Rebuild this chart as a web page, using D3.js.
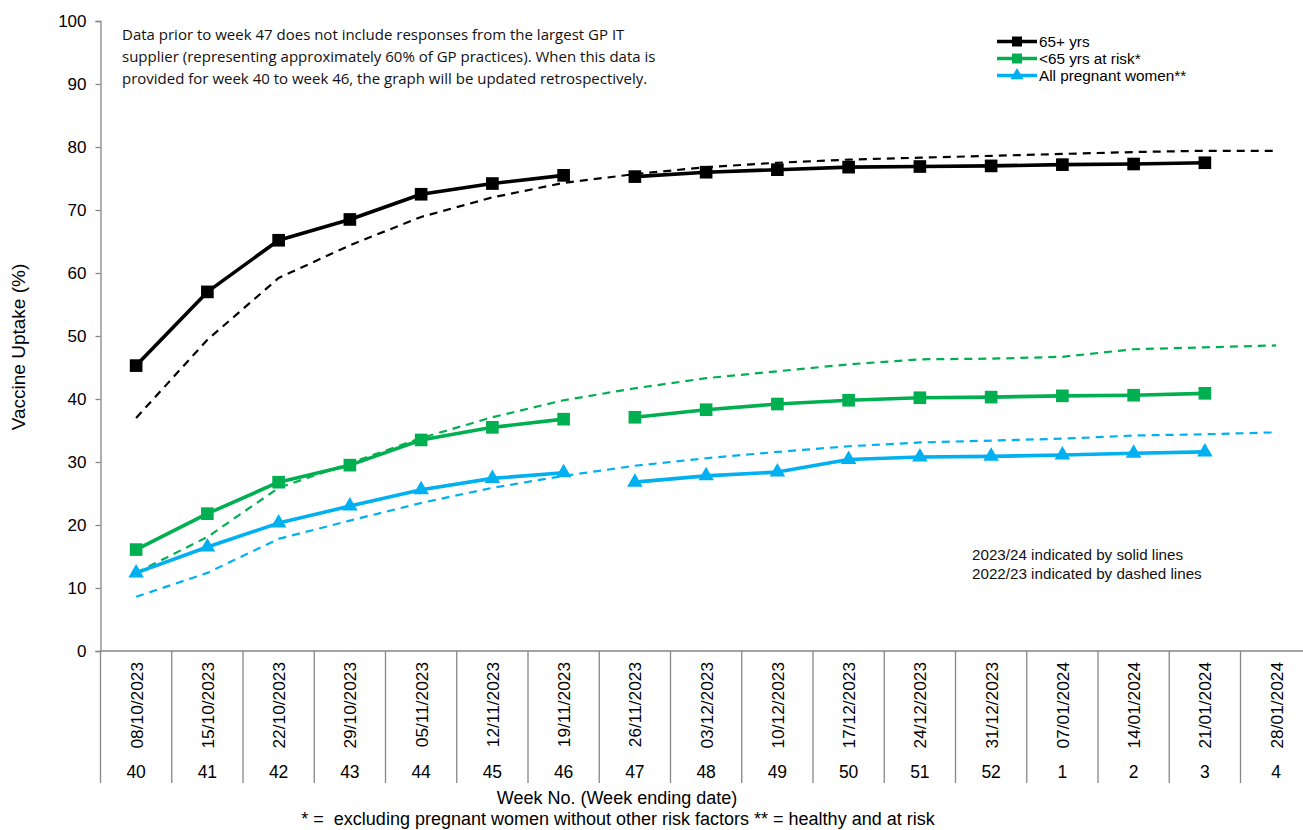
<!DOCTYPE html>
<html><head><meta charset="utf-8">
<script src="https://cdn.jsdelivr.net/npm/d3@7"></script>
<style>body{margin:0;background:#fff}svg{display:block}text{white-space:pre}</style>
</head><body>
<svg id="c" width="1303" height="830"></svg>
<script>
const dates = ["08/10/2023","15/10/2023","22/10/2023","29/10/2023","05/11/2023","12/11/2023","19/11/2023","26/11/2023","03/12/2023","10/12/2023","17/12/2023","24/12/2023","31/12/2023","07/01/2024","14/01/2024","21/01/2024","28/01/2024"];
const weeks = ["40","41","42","43","44","45","46","47","48","49","50","51","52","1","2","3","4"];
const yTicks = [0,10,20,30,40,50,60,70,80,90,100];
// 2023/24 (solid) — null = no data
const over65_2324 = [45.3,57.0,65.2,68.5,72.5,74.2,75.5,75.3,76.0,76.4,76.8,76.9,77.0,77.2,77.3,77.5,null];
const atRisk_2324 = [16.1,21.8,26.8,29.5,33.5,35.5,36.8,37.1,38.3,39.2,39.8,40.2,40.3,40.5,40.6,40.9,null];
const preg_2324 = [12.4,16.5,20.3,23.0,25.6,27.4,28.3,26.8,27.8,28.4,30.4,30.8,30.9,31.1,31.4,31.6,null];
// 2022/23 (dashed)
const over65_2223 = [37.0,49.4,59.2,64.4,68.9,72.0,74.3,75.7,76.8,77.5,78.0,78.3,78.6,78.9,79.2,79.4,79.4];
const atRisk_2223 = [12.4,18.1,25.9,29.8,33.8,37.1,39.8,41.7,43.3,44.4,45.5,46.3,46.4,46.7,47.9,48.2,48.5];
const preg_2223 = [8.6,12.4,17.8,20.7,23.5,25.9,27.8,29.4,30.6,31.6,32.5,33.1,33.4,33.7,34.2,34.4,34.7];
// 2023/24 lines break between week 46 and week 47
const breakAfter = 6;

const seriesNames = ["65+ yrs","<65 yrs at risk*","All pregnant women**"];
const colors = ["#000000","#00B050","#00B0F0"];
const shapes = ["square","square","triangle"];

const svg = d3.select("#c");
const left = 100.5, plotTop = 21, plotBottom = 651, colW = 71.25;
const x = d3.scaleBand().domain(d3.range(dates.length)).range([left, left + colW*dates.length]).padding(0);
const y = d3.scaleLinear().domain([0,100]).range([plotBottom, plotTop]);
const cx = i => x(i) + x.bandwidth()/2;
const axisColor = "#868686";
const font = "'Liberation Sans', Arial, sans-serif";

// Y axis
const yAxis = svg.append("g").attr("transform",`translate(${left},0)`)
  .call(d3.axisLeft(y).tickValues(yTicks).tickSize(5).tickPadding(9).tickFormat(d3.format("d")));
yAxis.select(".domain").attr("stroke",axisColor).attr("stroke-width",1.3);
yAxis.selectAll(".tick line").attr("stroke",axisColor).attr("stroke-width",1.3);
yAxis.selectAll(".tick text").attr("font-family",font).attr("font-size",17).attr("fill","#000");

// X axis line
svg.append("line").attr("x1",left).attr("x2",left+colW*dates.length).attr("y1",plotBottom).attr("y2",plotBottom)
  .attr("stroke",axisColor).attr("stroke-width",1.3);
// Category separators
const seps = d3.range(dates.length+1);
svg.append("g").selectAll("line").data(seps).join("line")
  .attr("x1",i => i<dates.length ? x(i) : x(i-1)+x.bandwidth())
  .attr("x2",i => i<dates.length ? x(i) : x(i-1)+x.bandwidth())
  .attr("y1",plotBottom).attr("y2",783).attr("stroke",axisColor).attr("stroke-width",1.3);
// Date labels
svg.append("g").selectAll("text").data(dates).join("text")
  .attr("transform",(d,i)=>`translate(${cx(i)+6.5},662) rotate(-90)`)
  .attr("text-anchor","end").attr("font-family",font).attr("font-size",17.3).attr("fill","#000")
  .text(d=>d);
// Week labels
svg.append("g").selectAll("text").data(weeks).join("text")
  .attr("x",(d,i)=>cx(i)).attr("y",778).attr("text-anchor","middle")
  .attr("font-family",font).attr("font-size",17.5).attr("fill","#000").text(d=>d);

// Axis titles
svg.append("text").attr("x",617).attr("y",804).attr("text-anchor","middle")
  .attr("font-family",font).attr("font-size",18).text("Week No. (Week ending date)");
svg.append("text").attr("x",618).attr("y",825).attr("text-anchor","middle")
  .attr("font-family",font).attr("font-size",18).text("* =  excluding pregnant women without other risk factors ** = healthy and at risk");
svg.append("text").attr("transform","translate(25,347) rotate(-90)").attr("text-anchor","middle")
  .attr("font-family",font).attr("font-size",19).text("Vaccine Uptake (%)");

// Lines
const line = d3.line().defined(d=>d.v!=null).x(d=>cx(d.i)).y(d=>y(d.v));
const toPts = arr => arr.map((v,i)=>({i,v}));
const dashed = [over65_2223, atRisk_2223, preg_2223];
dashed.forEach((arr,k)=>{
  svg.append("path").attr("d",line(toPts(arr))).attr("fill","none")
    .attr("stroke",colors[k]).attr("stroke-width",2.2).attr("stroke-dasharray","8,6");
});
const solid = [atRisk_2324, preg_2324, over65_2324];
const solidColorIdx = [1,2,0];
solid.forEach((arr,k)=>{
  const ci = solidColorIdx[k];
  const pts = toPts(arr);
  const seg1 = pts.map(p => p.i<=breakAfter ? p : {i:p.i,v:null});
  const seg2 = pts.map(p => p.i>breakAfter ? p : {i:p.i,v:null});
  [seg1,seg2].forEach(seg=>{
    svg.append("path").attr("d",line(seg)).attr("fill","none")
      .attr("stroke",colors[ci]).attr("stroke-width",3.6).attr("stroke-linejoin","round");
  });
  const sym = shapes[ci]==="square" ? d3.symbol().type(d3.symbolSquare).size(160) : d3.symbol().type(d3.symbolTriangle).size(105);
  svg.append("g").selectAll("path").data(pts.filter(p=>p.v!=null)).join("path")
    .attr("transform",p=>`translate(${cx(p.i)},${y(p.v)})`)
    .attr("d",sym).attr("fill",colors[ci]);
});

// Legend
const lg = svg.append("g");
seriesNames.forEach((n,k)=>{
  const ly = 41.5 + k*17;
  lg.append("line").attr("x1",997).attr("x2",1037).attr("y1",ly).attr("y2",ly)
    .attr("stroke",colors[k]).attr("stroke-width",3.6);
  const sym = shapes[k]==="square" ? d3.symbol().type(d3.symbolSquare).size(100) : d3.symbol().type(d3.symbolTriangle).size(75);
  lg.append("path").attr("transform",`translate(1017,${ly})`).attr("d",sym).attr("fill",colors[k]);
  lg.append("text").attr("x",1039).attr("y",ly+5.5).attr("font-family",font).attr("font-size",15.3).text(n);
});

// Annotations
const note = ["Data prior to week 47 does not include responses from the largest GP IT",
  "supplier (representing approximately 60% of GP practices). When this data is",
  "provided for week 40 to week 46, the graph will be updated retrospectively."];
svg.append("g").selectAll("text").data(note).join("text")
  .attr("x",122).attr("y",(d,i)=>40+i*22).attr("font-family","'Open Sans', sans-serif").attr("font-size",15)
  .attr("fill","#111").text(d=>d);
const note2 = ["2023/24 indicated by solid lines","2022/23 indicated by dashed lines"];
svg.append("g").selectAll("text").data(note2).join("text")
  .attr("x",972).attr("y",(d,i)=>560+i*19).attr("font-family",font).attr("font-size",15.2)
  .attr("fill","#111").text(d=>d);
</script>
</body></html>
